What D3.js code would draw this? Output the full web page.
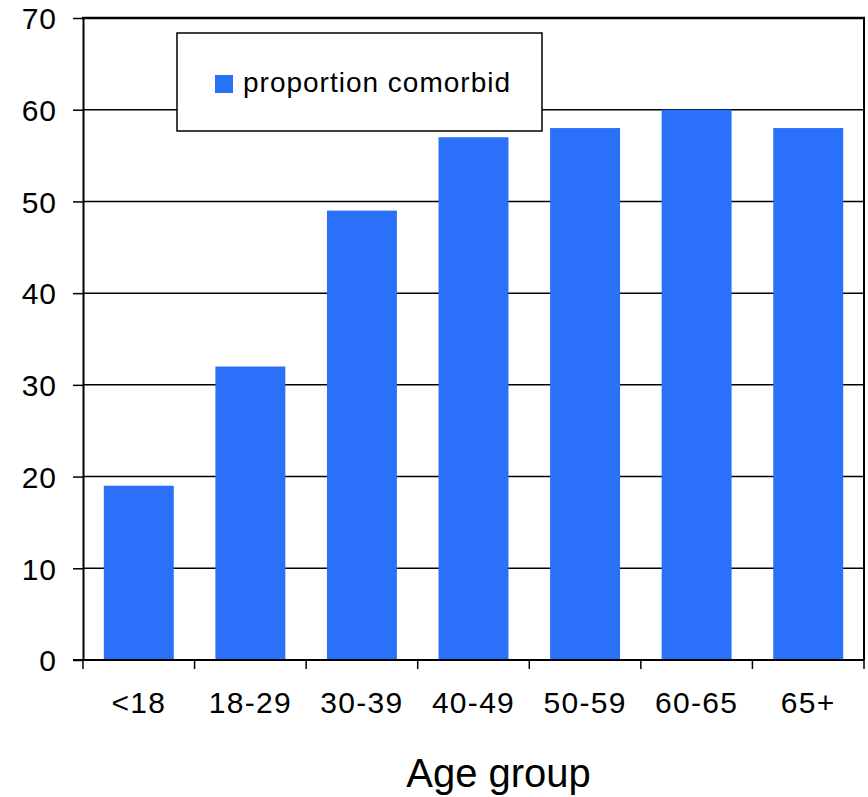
<!DOCTYPE html>
<html><head><meta charset="utf-8">
<script src="https://cdn.jsdelivr.net/npm/d3@7"></script>
<style>body{margin:0;background:#fff}svg{display:block}text{font-family:"Liberation Sans",Arial,sans-serif;fill:#000}</style>
</head><body>
<svg id="c" width="868" height="797"></svg>
<script>
const categories = ["<18","18-29","30-39","40-49","50-59","60-65","65+"];
const values = [19,32,49,57,58,60,58];
const yTicks = [0,10,20,30,40,50,60,70];
const seriesName = "proportion comorbid";
const xTitle = "Age group";

const svg = d3.select("#c");
const L=83, R=864, T=18, B=660;
const x = d3.scaleBand().domain(categories).range([L,R]).paddingInner(0.373).paddingOuter(0.1865);
const y = d3.scaleLinear().domain([0,70]).range([B,T]);
const color = "#2a70f8";

// gridlines
svg.append("g").selectAll("line").data(yTicks.filter(d=>d>0 && d<70)).join("line")
  .attr("x1",L).attr("x2",R).attr("y1",d=>y(d)).attr("y2",d=>y(d))
  .attr("stroke","#000").attr("stroke-width",1.5);

// bars
svg.append("g").selectAll("rect").data(values).join("rect")
  .attr("x",(d,i)=>x(categories[i])).attr("width",x.bandwidth())
  .attr("y",d=>y(d)).attr("height",d=>B-y(d)).attr("fill",color);

// borders
svg.append("line").attr("x1",L-1).attr("x2",R+1).attr("y1",y(70)).attr("y2",y(70)).attr("stroke","#000").attr("stroke-width",2.5);
svg.append("line").attr("x1",R).attr("x2",R).attr("y1",T).attr("y2",B).attr("stroke","#000").attr("stroke-width",2);

// y axis
const ya = svg.append("g").attr("transform",`translate(${L},0)`)
  .call(d3.axisLeft(y).tickValues(yTicks).tickSize(10).tickSizeOuter(0).tickPadding(16));
ya.select(".domain").attr("stroke","#000").attr("stroke-width",2);
ya.selectAll(".tick line").attr("stroke","#000").attr("stroke-width",1.5);
ya.selectAll(".tick text").attr("font-size",30).attr("letter-spacing",1)
  .attr("font-family",'"Liberation Sans",Arial,sans-serif').attr("fill","#000").attr("dy","0.36em");

// x axis
svg.append("line").attr("x1",L-10).attr("x2",R).attr("y1",B).attr("y2",B).attr("stroke","#000").attr("stroke-width",2);
const gap = (x.step()-x.bandwidth())/2;
const bounds = categories.map(c=>x(c)-gap).concat([R]);
svg.append("g").selectAll("line").data(bounds).join("line")
  .attr("x1",d=>d).attr("x2",d=>d).attr("y1",B).attr("y2",B+9).attr("stroke","#000").attr("stroke-width",1.5);
svg.append("g").selectAll("text").data(categories).join("text")
  .attr("x",d=>x(d)+x.bandwidth()/2).attr("y",713).attr("text-anchor","middle")
  .attr("font-size",30).attr("letter-spacing",1.3).text(d=>d);

svg.append("text").attr("x",(L+R)/2+25).attr("y",787).attr("text-anchor","middle")
  .attr("font-size",40).text(xTitle);

// legend
svg.append("rect").attr("x",177).attr("y",33).attr("width",365).attr("height",98)
  .attr("fill","#fff").attr("stroke","#000").attr("stroke-width",1.5);
svg.append("rect").attr("x",215).attr("y",75).attr("width",18).attr("height",18).attr("fill",color);
svg.append("text").attr("x",243).attr("y",92).attr("font-size",28).attr("letter-spacing",1).text(seriesName);
</script>
</body></html>
